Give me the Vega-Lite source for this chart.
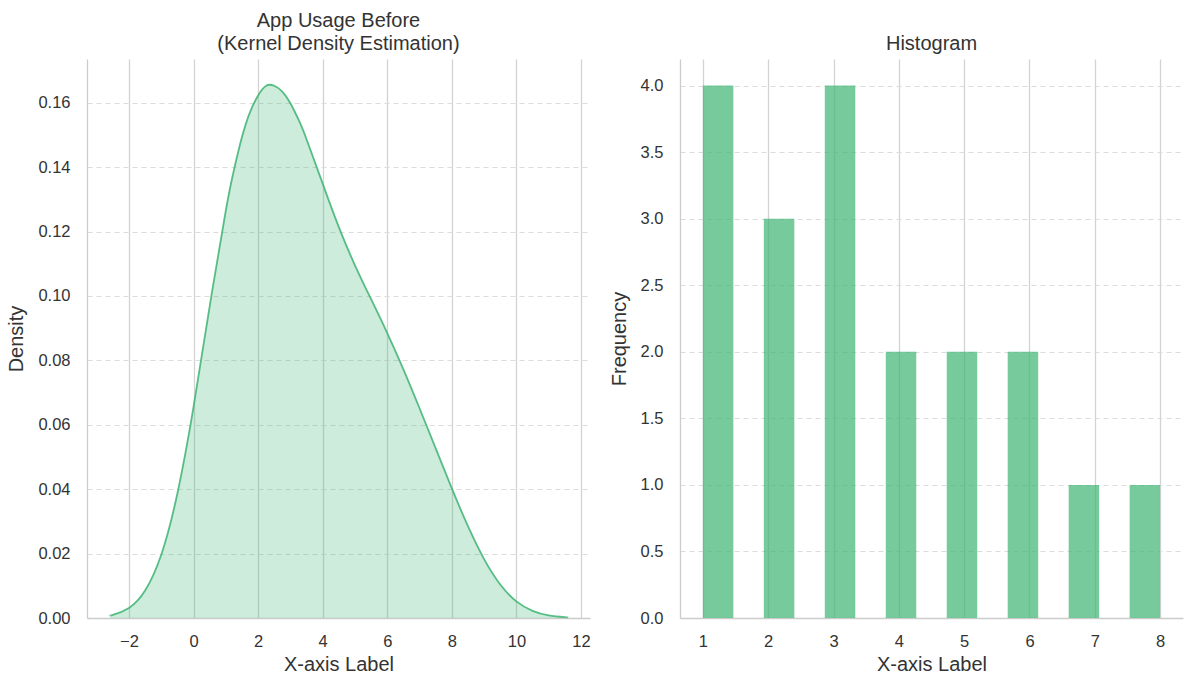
{
  "$schema": "https://vega.github.io/schema/vega-lite/v6.json",
  "background": "white",
  "padding": {"left": 6, "top": 11, "right": 5, "bottom": 5},
  "spacing": 18,
  "config": {
    "font": "Liberation Sans",
    "view": {"stroke": null},
    "axis": {
      "domainColor": "#cccccc",
      "domainWidth": 1.3,
      "ticks": false,
      "labelFontSize": 16.5,
      "labelColor": "#333333",
      "titleFontSize": 20,
      "titleColor": "#333333",
      "titleFontWeight": "normal",
      "grid": true
    },
    "axisX": {"gridColor": "#d3d3d3", "gridWidth": 1.3, "labelPadding": 15, "titlePadding": 5, "labelFlush": false},
    "axisY": {"gridColor": "#dcdcdc", "gridDash": [5, 4], "gridWidth": 1.1, "labelPadding": 17, "titlePadding": 11},
    "title": {"fontSize": 20, "fontWeight": "normal", "color": "#333333", "offset": 5, "lineHeight": 23}
  },
  "hconcat": [
    {
      "width": 503,
      "height": 559,
      "title": {"text": ["App Usage Before", "(Kernel Density Estimation)"]},
      "data": {"values": [
        {"x": -2.57, "density": 0.00088},
        {"x": -2.5, "density": 0.000976},
        {"x": -2.0, "density": 0.003137},
        {"x": -1.5, "density": 0.00852},
        {"x": -1.0, "density": 0.019646},
        {"x": -0.5, "density": 0.038675},
        {"x": 0.0, "density": 0.065539},
        {"x": 0.5, "density": 0.096796},
        {"x": 1.0, "density": 0.126555},
        {"x": 1.25, "density": 0.139067},
        {"x": 1.5, "density": 0.149351},
        {"x": 1.75, "density": 0.157114},
        {"x": 2.0, "density": 0.162285},
        {"x": 2.25, "density": 0.165318},
        {"x": 2.5, "density": 0.165283},
        {"x": 2.75, "density": 0.163486},
        {"x": 3.0, "density": 0.159874},
        {"x": 3.25, "density": 0.154813},
        {"x": 3.5, "density": 0.148686},
        {"x": 4.0, "density": 0.134881},
        {"x": 4.5, "density": 0.121386},
        {"x": 5.0, "density": 0.109543},
        {"x": 5.5, "density": 0.098998},
        {"x": 6.0, "density": 0.088503},
        {"x": 6.5, "density": 0.07724},
        {"x": 7.0, "density": 0.065149},
        {"x": 7.5, "density": 0.05266},
        {"x": 8.0, "density": 0.040239},
        {"x": 8.5, "density": 0.028505},
        {"x": 9.0, "density": 0.018291},
        {"x": 9.5, "density": 0.010409},
        {"x": 10.0, "density": 0.005161},
        {"x": 10.5, "density": 0.002202},
        {"x": 11.0, "density": 0.000802},
        {"x": 11.5, "density": 0.000247},
        {"x": 11.57, "density": 0.0002}
      ]},
      "encoding": {
        "x": {
          "field": "x", "type": "quantitative",
          "scale": {"domain": [-3.3, 12.28], "nice": false, "zero": false},
          "axis": {"values": [-2, 0, 2, 4, 6, 8, 10, 12], "title": "X-axis Label"}
        },
        "y": {
          "field": "density", "type": "quantitative",
          "scale": {"domain": [0, 0.1736], "nice": false},
          "axis": {"values": [0, 0.02, 0.04, 0.06, 0.08, 0.1, 0.12, 0.14, 0.16], "format": ".2f", "title": "Density"}
        }
      },
      "layer": [
        {"mark": {"type": "area", "interpolate": "natural", "color": "#3CB371", "fillOpacity": 0.25}},
        {"mark": {"type": "line", "interpolate": "natural", "color": "#3CB371", "strokeWidth": 1.8, "strokeOpacity": 0.85}}
      ]
    },
    {
      "width": 503,
      "height": 559,
      "title": {"text": "Histogram"},
      "data": {"values": [
        {"start": 1.0, "end": 1.4667, "count": 4},
        {"start": 1.9333, "end": 2.4, "count": 3},
        {"start": 2.8667, "end": 3.3333, "count": 4},
        {"start": 3.8, "end": 4.2667, "count": 2},
        {"start": 4.7333, "end": 5.2, "count": 2},
        {"start": 5.6667, "end": 6.1333, "count": 2},
        {"start": 6.6, "end": 7.0667, "count": 1},
        {"start": 7.5333, "end": 8.0, "count": 1}
      ]},
      "mark": {"type": "bar", "color": "#3CB371", "opacity": 0.7},
      "encoding": {
        "x": {
          "field": "start", "type": "quantitative",
          "scale": {"domain": [0.65, 8.35], "nice": false, "zero": false},
          "axis": {"values": [1, 2, 3, 4, 5, 6, 7, 8], "title": "X-axis Label"}
        },
        "x2": {"field": "end"},
        "y": {
          "field": "count", "type": "quantitative",
          "scale": {"domain": [0, 4.2], "nice": false},
          "axis": {"values": [0, 0.5, 1, 1.5, 2, 2.5, 3, 3.5, 4], "format": ".1f", "title": "Frequency"}
        },
        "y2": {"datum": 0}
      }
    }
  ]
}
